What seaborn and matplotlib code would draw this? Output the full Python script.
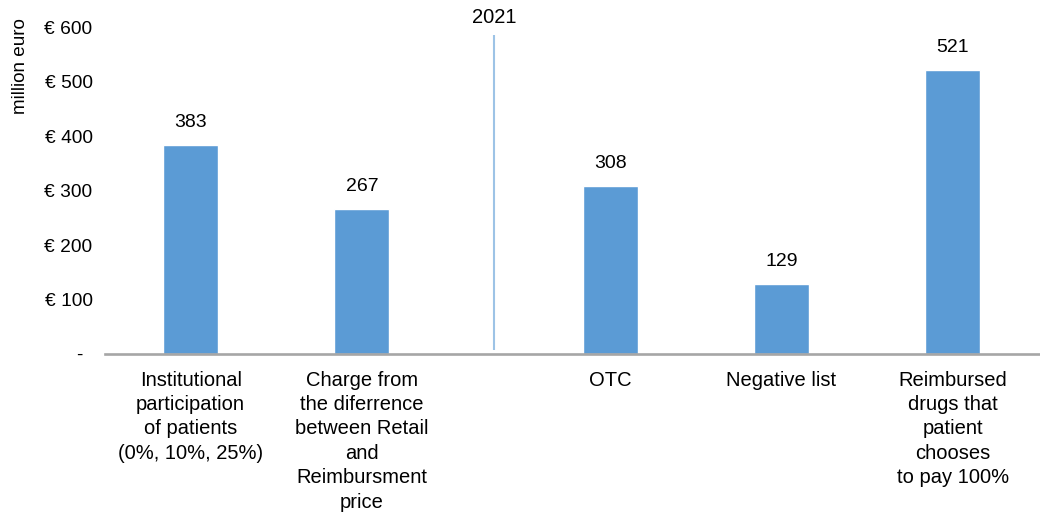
import numpy as np
import pandas as pd
import matplotlib
matplotlib.use("Agg")
import matplotlib.pyplot as plt
import seaborn as sns

# data
categories = [
    "Institutional\nparticipation\nof patients\n(0%, 10%, 25%)",
    "Charge from\nthe diferrence\nbetween Retail\nand\nReimbursment\nprice",
    "OTC",
    "Negative list",
    "Reimbursed\ndrugs that\npatient\nchooses\nto pay 100%",
]
values = [383, 267, 308, 129, 521]
year_label = "2021"
y_ticks = [0, 100, 200, 300, 400, 500, 600]
y_tick_labels = ["- \u2009", "€ 100", "€ 200", "€ 300", "€ 400", "€ 500", "€ 600"]

bar_color = "#5B9BD5"
line_color = "#9DC3E6"

sns.set_theme(style="white", rc={
    "text.color": "black", "axes.labelcolor": "black",
    "xtick.color": "black", "ytick.color": "black",
})
plt.rcParams["font.family"] = ["Liberation Sans", "DejaVu Sans"]

# bars after the divider are shifted a bit to the right
idx = np.arange(len(categories))
xpos = idx + np.where(idx >= 2, 0.45, 0.0)
df = pd.DataFrame({"x": xpos, "value": values, "cat": categories})

fig = plt.figure(figsize=(10.4, 5.13), dpi=100)
ax = fig.add_axes([0.101, 0.310, 0.899, 0.637])

sns.barplot(data=df, x="x", y="value", native_scale=True, width=0.32,
            color=bar_color, saturation=1, ax=ax)

ax.bar_label(ax.containers[0], labels=[str(v) for v in values],
             padding=10, fontsize=14)

# divider between the two groups
div_x = xpos[1] + 0.77
ax.vlines(div_x, 7, 585, color=line_color, lw=1.5)
ax.text(div_x, 618, year_label, ha="center", va="center",
        fontsize=14.5, clip_on=False)

ax.set_xlim(-0.5, 4.96)
ax.set_ylim(0, 600)
ax.set_xticks(xpos)
ax.set_xticklabels(categories, fontsize=14.5, linespacing=1.36)
ax.set_yticks(y_ticks)
ax.set_yticklabels(y_tick_labels, fontsize=13.8)
ax.tick_params(axis="x", length=0, pad=12)
ax.tick_params(axis="y", length=0, pad=9)
ax.set_xlabel("")
ax.set_ylabel("million euro", fontsize=13.6)
ax.yaxis.set_label_coords(-0.081, 0.88)

for s in ["top", "right", "left"]:
    ax.spines[s].set_visible(False)
ax.spines["bottom"].set_color("#A6A6A6")
ax.spines["bottom"].set_linewidth(1.9)

fig.savefig("out.png", dpi=100)
